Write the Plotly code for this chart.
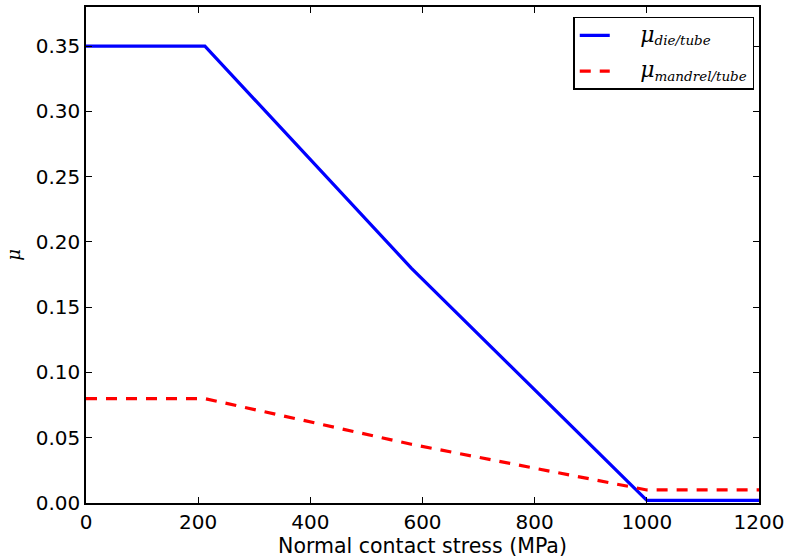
import plotly.graph_objects as go

stress_die = [0, 212, 580, 1000, 1200]
mu_die = [0.35, 0.35, 0.18, 0.002, 0.002]
stress_mandrel = [0, 212, 580, 1000, 1200]
mu_mandrel = [0.08, 0.08, 0.045, 0.01, 0.01]

x_ticks = [0, 200, 400, 600, 800, 1000, 1200]
y_ticks = [0.00, 0.05, 0.10, 0.15, 0.20, 0.25, 0.30, 0.35]

def legend_label(sub):
    return ("&nbsp;&nbsp;&nbsp;&nbsp;&nbsp;<i><span style='font-size:22px'>μ</span></i>"
            "<sub><i><span style='font-size:13.5px'>" + sub + "</span></i></sub>")

fig = go.Figure()
fig.add_trace(go.Scatter(
    x=stress_die, y=mu_die, mode="lines",
    name=legend_label("die/tube"), legendgroup="die",
    line=dict(color="#0000ff", width=3.2),
))
fig.add_trace(go.Scatter(
    x=stress_mandrel, y=mu_mandrel, mode="lines",
    name=legend_label("mandrel/tube"), legendgroup="mandrel",
    line=dict(color="#ff0000", width=3.2, dash="11px,9px"),
))

axis_common = dict(
    showgrid=False, zeroline=False,
    showline=True, linecolor="black", linewidth=1.5, mirror="ticks",
    ticks="inside", ticklen=6, tickwidth=1.2, tickcolor="black",
    tickfont=dict(family="DejaVu Sans", size=20, color="black"),
)

fig.update_layout(
    width=789, height=559,
    margin=dict(l=86, r=29, t=5, b=56),
    paper_bgcolor="white", plot_bgcolor="white",
    xaxis=dict(range=[0, 1200], tickvals=x_ticks,
               ticktext=[str(v) for v in x_ticks],
               title=dict(text="Normal contact stress (MPa)",
                          font=dict(family="DejaVu Sans", size=20.5, color="black"),
                          standoff=4),
               **axis_common),
    yaxis=dict(range=[0, 0.38], tickvals=y_ticks,
               ticktext=[f"{v:.2f}" for v in y_ticks],
               title=dict(text="<i>μ</i>",
                          font=dict(family="DejaVu Serif", size=18, color="black"),
                          standoff=10),
               **axis_common),
    legend=dict(
        x=0.724, y=0.98, xanchor="left", yanchor="top",
        bgcolor="white", bordercolor="black", borderwidth=1.5,
        font=dict(family="DejaVu Serif", size=16, color="black"),
        traceorder="grouped", tracegroupgap=12,
        itemwidth=30,
    ),
    showlegend=True,
)

fig.write_html("out.html")
